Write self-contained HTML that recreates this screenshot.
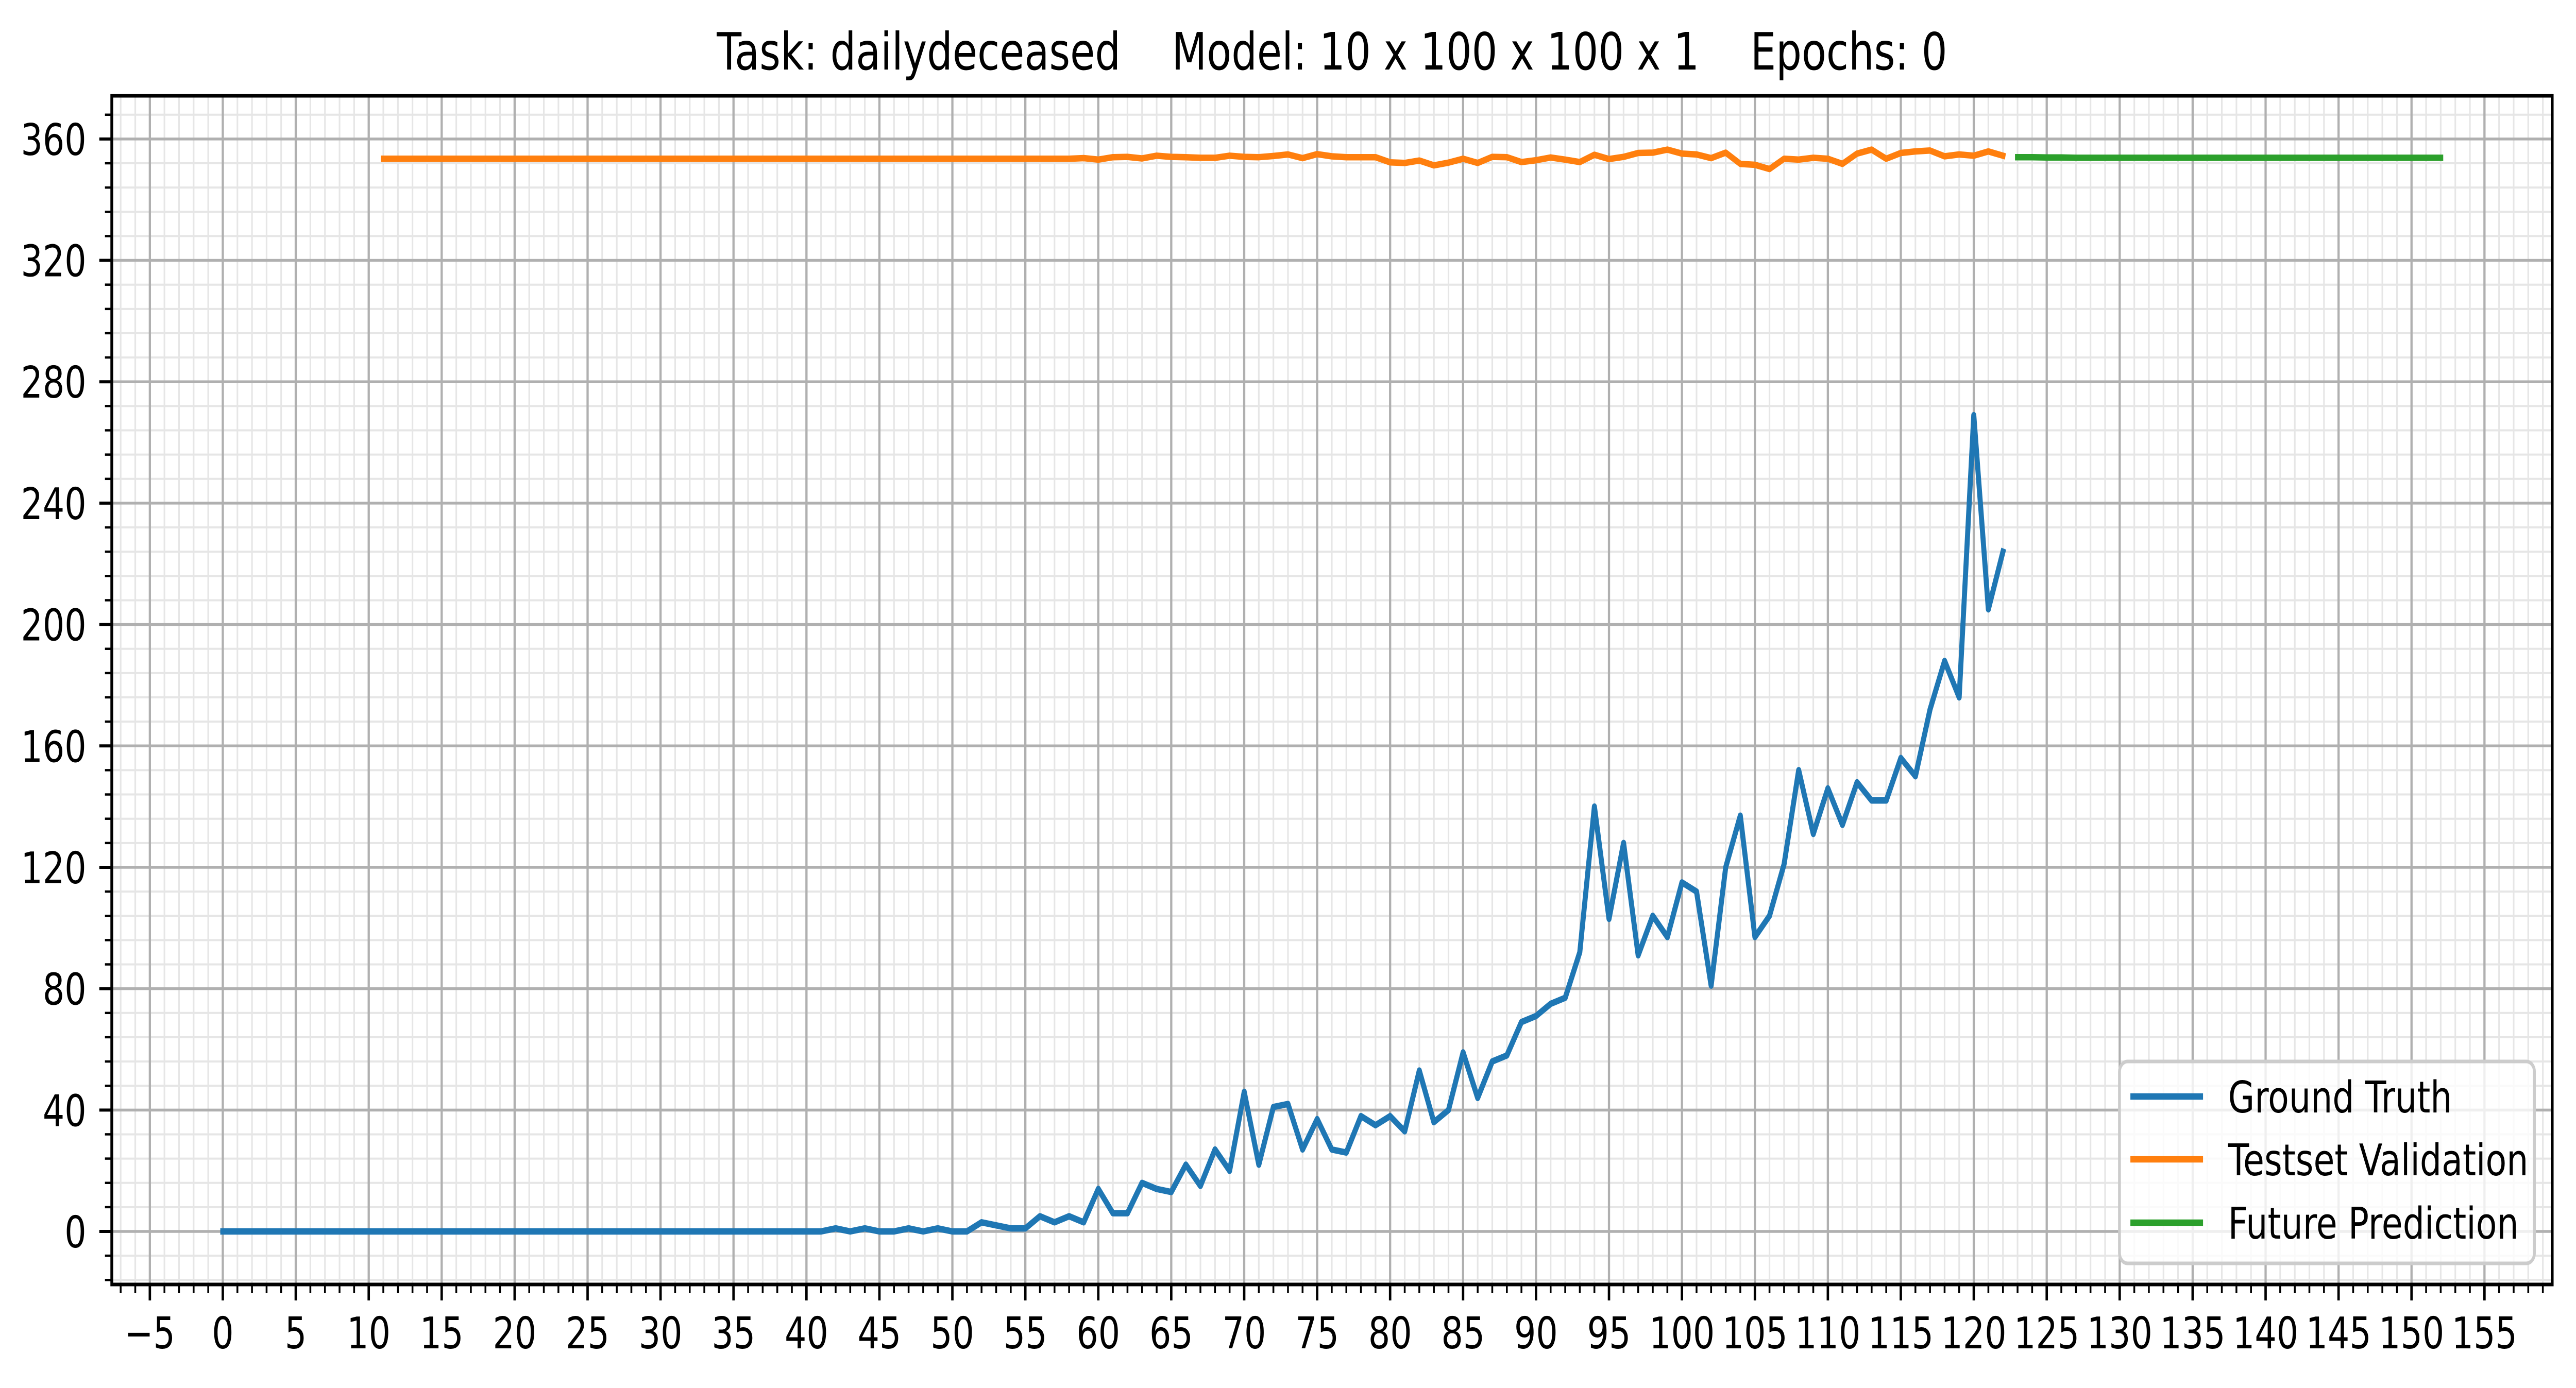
<!DOCTYPE html>
<html>
<head>
<meta charset="utf-8">
<meta name="viewport" content="width=6382, initial-scale=1">
<style>
html,body{margin:0;padding:0;background:#fff;width:100%;height:100%;overflow:hidden;}
svg{display:block;width:100vw;height:100vh;}
text{font-family:"DejaVu Sans","Liberation Sans",sans-serif;fill:#000;}
</style>
</head>
<body>
<svg id="chart" xmlns="http://www.w3.org/2000/svg" viewBox="0 0 6382 2695" preserveAspectRatio="none">
  <rect x="0" y="0" width="6382" height="2695" fill="#fff"/>
  <text x="3300" y="135" font-size="100" text-anchor="middle" xml:space="preserve">Task: dailydeceased    Model: 10 x 100 x 100 x 1    Epochs: 0</text>
  <g id="grid"></g>
  <g id="series"></g>
  <rect x="277" y="186" width="6046" height="2308" fill="none" stroke="#000" stroke-width="7"/>
  <g id="ticks"></g>
  <g id="legend">
    <rect x="5251" y="2061" width="1028" height="392" rx="20" ry="20" fill="#fff" fill-opacity="0.8" stroke="#cccccc" stroke-width="7"/>
    <line x1="5278" y1="2129" x2="5458" y2="2129" stroke="#1f77b4" stroke-width="12.5"/>
    <text x="5520" y="2160" font-size="85">Ground Truth</text>
    <line x1="5278" y1="2251" x2="5458" y2="2251" stroke="#ff7f0e" stroke-width="12.5"/>
    <text x="5520" y="2282" font-size="85">Testset Validation</text>
    <line x1="5278" y1="2374" x2="5458" y2="2374" stroke="#2ca02c" stroke-width="12.5"/>
    <text x="5520" y="2405" font-size="85">Future Prediction</text>
  </g>
</svg>
<script>
// ---- data ----
const truthStart = 0;
const truthValues = [0,0,0,0,0,0,0,0,0,0, 0,0,0,0,0,0,0,0,0,0, 0,0,0,0,0,0,0,0,0,0, 0,0,0,0,0,0,0,0,0,0,
  0,0,1,0,1,0,0,1,0,1, 0,0,3,2,1,1,5,3,5,3, 14,6,6,16,14,13,22,15,27,20, 46,22,41,42,27,37,27,26,38,35,
  38,33,53,36,40,59,44,56,58,69, 71,75,77,92,140,103,128,91,104,97, 115,112,81,120,137,97,104,121,152,131,
  146,134,148,142,142,156,150,172,188,176, 269,205,224];
const validStart = 11;
const validValues = [353.5,353.5,353.5,353.5,353.5,353.5,353.5,353.5,353.5,353.5,
  353.5,353.5,353.5,353.5,353.5,353.5,353.5,353.5,353.5,353.5,
  353.5,353.5,353.5,353.5,353.5,353.5,353.5,353.5,353.5,353.5,
  353.5,353.5,353.5,353.5,353.5,353.5,353.5,353.5,353.5,353.5,
  353.5,353.5,353.5,353.5,353.5,353.5,353.5,353.5,353.7,353.2,
  354.0,354.1,353.6,354.5,354.1,354.0,353.8,353.8,354.5,354.1,
  354.0,354.4,354.9,353.7,355.0,354.3,354.0,354.0,354.0,352.3,
  352.1,352.9,351.3,352.2,353.5,352.1,354.1,354.0,352.4,353.0,
  353.9,353.2,352.4,354.8,353.4,354.1,355.4,355.5,356.5,355.2,
  354.9,353.7,355.5,351.8,351.5,350.1,353.5,353.2,353.8,353.5,
  351.8,355.2,356.5,353.5,355.4,355.9,356.2,354.3,354.9,354.5,
  355.9,354.5];
const futureStart = 123;
const futureValues = [354.0,354.0,353.9,353.9,353.8,353.8,353.8,353.8,353.8,353.8,
  353.8,353.8,353.8,353.8,353.8,353.8,353.8,353.8,353.8,353.8,
  353.8,353.8,353.8,353.8,353.8,353.8,353.8,353.8,353.8,353.8];
const xTickLabels = [-5,0,5,10,15,20,25,30,35,40,45,50,55,60,65,70,75,80,85,90,95,100,105,110,115,120,125,130,135,140,145,150,155];
const yTickLabels = [0,40,80,120,160,200,240,280,320,360];

// ---- axes ----
const NS = "http://www.w3.org/2000/svg";
const AX = {left:277, right:6323, top:186, bottom:2494};
function X(v){ return 552 + 36.15 * v; }
function Y(v){ return 2391 - 5.892 * v; }
function mk(tag, attrs, parent){
  const el = document.createElementNS(NS, tag);
  for (const k in attrs) el.setAttribute(k, attrs[k]);
  parent.appendChild(el);
  return el;
}
const grid = document.getElementById('grid');
const ticks = document.getElementById('ticks');
const series = document.getElementById('series');

for (let v = -7; v <= 159; v++) {
  const x = X(v);
  if (x < AX.left || x > AX.right) continue;
  const l = mk('line', {x1:x, y1:AX.top, x2:x, y2:AX.bottom, stroke:'#e6e6e6', 'stroke-width':4}, grid);
  
  
  const t = mk('line', {x1:x, y1:AX.bottom, x2:x, y2:AX.bottom+17, stroke:'#000', 'stroke-width':4.5}, ticks);
  
  
}
for (let v = -16; v <= 376; v += 8) {
  const y = Y(v);
  if (y < AX.top || y > AX.bottom) continue;
  const l = mk('line', {x1:AX.left, y1:y, x2:AX.right, y2:y, stroke:'#e6e6e6', 'stroke-width':4}, grid);
  
  
  const t = mk('line', {x1:AX.left-17, y1:y, x2:AX.left, y2:y, stroke:'#000', 'stroke-width':4.5}, ticks);
  
  
}
xTickLabels.forEach(v => {
  const x = X(v);
  const l = mk('line', {x1:x, y1:AX.top, x2:x, y2:AX.bottom, stroke:'#b0b0b0', 'stroke-width':5.5}, grid);
  
  
  const t = mk('line', {x1:x, y1:AX.bottom, x2:x, y2:AX.bottom+31, stroke:'#000', 'stroke-width':6}, ticks);
  
  
  const tx = mk('text', {x:x, y:2618, 'font-size':85, 'text-anchor':'middle'}, ticks);
  tx.textContent = v < 0 ? '\u2212' + Math.abs(v) : String(v);
  
  
});
yTickLabels.forEach(v => {
  const y = Y(v);
  const l = mk('line', {x1:AX.left, y1:y, x2:AX.right, y2:y, stroke:'#b0b0b0', 'stroke-width':5.5}, grid);
  
  
  const t = mk('line', {x1:AX.left-31, y1:y, x2:AX.left, y2:y, stroke:'#000', 'stroke-width':6}, ticks);
  
  
  const tx = mk('text', {x:214, y:y+31, 'font-size':85, 'text-anchor':'end'}, ticks);
  tx.textContent = String(v);
  
  
});

function drawSeries(start, vals, color, name){
  const pts = vals.map((v,i) => X(start+i).toFixed(1) + ',' + Y(v).toFixed(1)).join(' ');
  const p = mk('polyline', {points:pts, fill:'none', stroke:color, 'stroke-width':12.5, 'stroke-linejoin':'round', 'stroke-linecap':'square'}, series);
  
  
}
drawSeries(truthStart, truthValues, '#1f77b4', 'ground-truth-line');
drawSeries(validStart, validValues, '#ff7f0e', 'testset-validation-line');
drawSeries(futureStart, futureValues, '#2ca02c', 'future-prediction-line');
</script>
</body>
</html>
